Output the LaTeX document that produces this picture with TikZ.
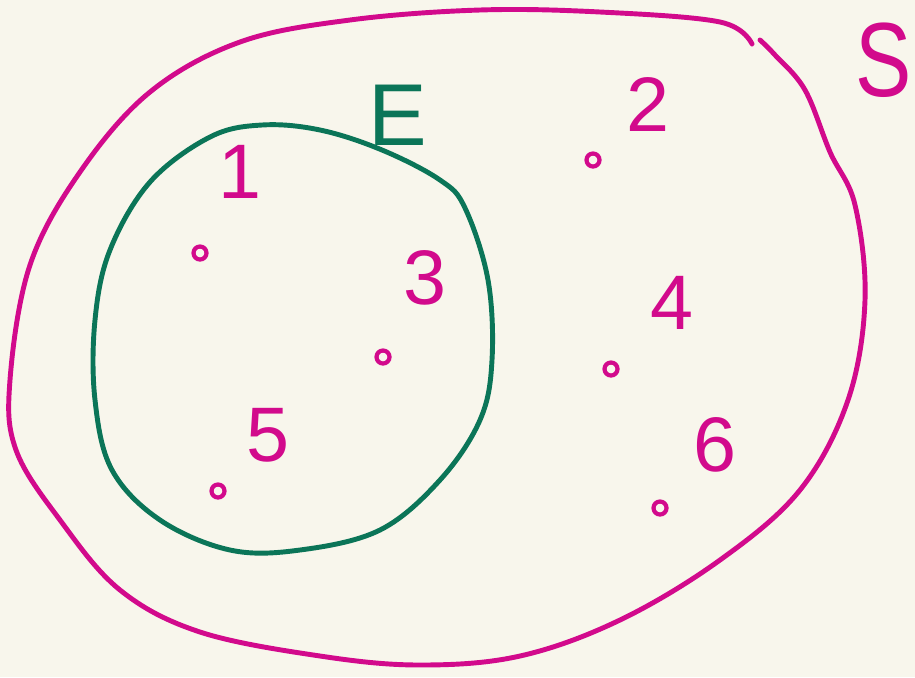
\documentclass[tikz,border=0pt]{standalone}
\usepackage{fontspec}
\setmainfont{Liberation Sans}
\usepackage{xcolor}
\usetikzlibrary{positioning}
\definecolor{paper}{HTML}{F8F6EC}
\definecolor{magentaink}{HTML}{D20A8C}
\definecolor{greenink}{HTML}{0B7558}

\begin{document}
\begin{tikzpicture}[
    x=0.02cm, y=-0.02cm,
    outline/.style={draw=magentaink, line width=2.8pt, line cap=round, line join=round},
    event/.style={draw=greenink, line width=2.8pt, line cap=round, line join=round},
    outcome/.style={circle, draw=magentaink, line width=2.4pt, inner sep=0pt, minimum size=0.26cm},
    digit/.style={text=magentaink, font=\fontsize{44}{50}\selectfont, inner sep=0pt}
]
    \fill[paper] (0,0) rectangle (915,677);
    \useasboundingbox (0,0) rectangle (915,677);

    % ================= SAMPLE SPACE S =================
    \draw[outline] plot[smooth, tension=0.6] coordinates {
        (752,44) (720,22) (600,12) (480,10) (350,20) (240,42) (150,92)
        (80,172) (30,265) (10,380) (16,450) (60,520) (120,590) (200,632)
        (320,656) (420,665) (520,656) (620,620) (720,560) (800,490)
        (848,400) (865,300) (855,205) (830,152) (805,90) (775,55) (760,40)};
    \node[text=magentaink, font=\fontsize{60}{66}\selectfont, inner sep=0pt, xscale=0.8] (S) at (884,60) {S};

    % ================= EVENT E =================
    \draw[event] plot[smooth cycle, tension=0.6] coordinates {
        (262,125) (320,130) (382,150) (440,180) (465,208) (488,280)
        (492,360) (480,420) (440,480) (380,530) (300,550) (230,550)
        (160,520) (112,470) (95,400) (95,320) (110,250) (150,182) (210,137)};
    \node[text=greenink, font=\fontsize{50}{56}\selectfont, inner sep=0pt] (E) at (398,115) {E};

    % ================= OUTCOMES =================
    \node[outcome] (p1) at (200,253) {};
    \node[outcome] (p2) at (593,160) {};
    \node[outcome] (p3) at (383,357) {};
    \node[outcome] (p4) at (611,369) {};
    \node[outcome] (p5) at (218,491) {};
    \node[outcome] (p6) at (660,508) {};

    \node[digit] (n1) at (240,172) {1};
    \node[digit] (n2) at (648,105) {2};
    \node[digit] (n3) at (425,278) {3};
    \node[digit] (n4) at (672,303) {4};
    \node[digit] (n5) at (268,435) {5};
    \node[digit] (n6) at (715,445) {6};

\end{tikzpicture}
\end{document}
